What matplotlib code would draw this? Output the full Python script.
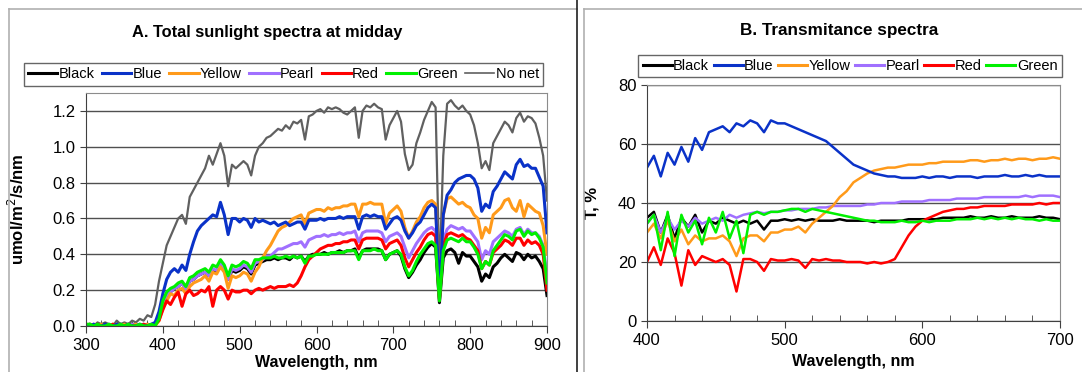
import matplotlib
matplotlib.use("Agg")
import matplotlib.pyplot as plt
import numpy as np
from matplotlib.lines import Line2D
from matplotlib.ticker import MultipleLocator, FormatStrFormatter

plt.rcParams['font.family'] = ['Liberation Sans', 'DejaVu Sans']

# ---- panel A: sunlight spectra under nets, 300-900 nm every 5 nm ----
wl_a = np.arange(300, 901, 5)

nonet = [0.00,0.01,0.00,0.02,0.01,0.02,0.01,0.00,0.03,0.01,
         0.02,0.01,0.03,0.02,0.04,0.03,0.06,0.05,0.12,0.25,
         0.35,0.45,0.50,0.55,0.60,0.62,0.57,0.72,0.76,0.80,
         0.84,0.88,0.95,0.90,0.96,1.02,0.95,0.78,0.90,0.88,
         0.90,0.92,0.90,0.84,0.95,1.00,1.02,1.05,1.06,1.08,
         1.10,1.09,1.12,1.10,1.14,1.13,1.15,1.04,1.17,1.18,
         1.20,1.21,1.19,1.22,1.21,1.22,1.21,1.19,1.18,1.20,
         1.22,1.05,1.20,1.23,1.22,1.24,1.22,1.21,1.04,1.12,
         1.16,1.20,1.14,0.96,0.87,0.90,1.02,1.08,1.15,1.20,
         1.25,1.22,0.28,0.95,1.24,1.26,1.23,1.21,1.23,1.20,
         1.18,1.12,1.02,0.88,0.92,0.87,1.02,1.06,1.10,1.14,
         1.12,1.08,1.16,1.19,1.14,1.17,1.16,1.13,1.05,0.95,
         0.70]
blue_a = [0.00,0.00,0.01,0.00,0.00,0.01,0.00,0.00,0.01,0.00,
          0.00,0.01,0.00,0.00,0.01,0.00,0.00,0.01,0.02,0.08,
          0.18,0.26,0.30,0.32,0.30,0.34,0.31,0.40,0.47,0.53,
          0.56,0.58,0.60,0.62,0.61,0.69,0.62,0.51,0.60,0.60,
          0.58,0.60,0.59,0.55,0.60,0.58,0.59,0.58,0.57,0.58,
          0.56,0.57,0.58,0.56,0.57,0.58,0.58,0.54,0.59,0.59,
          0.59,0.60,0.59,0.60,0.60,0.60,0.61,0.60,0.61,0.61,
          0.61,0.54,0.61,0.62,0.61,0.62,0.61,0.61,0.54,0.57,
          0.60,0.61,0.59,0.53,0.49,0.52,0.56,0.58,0.62,0.66,
          0.68,0.66,0.18,0.62,0.73,0.76,0.80,0.82,0.83,0.84,
          0.84,0.82,0.77,0.64,0.68,0.66,0.75,0.78,0.82,0.86,
          0.84,0.82,0.90,0.93,0.89,0.90,0.88,0.88,0.83,0.78,
          0.52]
yellow_a = [0.00,0.01,0.00,0.00,0.01,0.00,0.00,0.01,0.00,0.00,
            0.01,0.00,0.00,0.01,0.00,0.00,0.01,0.00,0.00,0.03,
            0.10,0.14,0.18,0.17,0.20,0.21,0.18,0.22,0.24,0.25,
            0.26,0.28,0.25,0.30,0.29,0.33,0.30,0.21,0.28,0.27,
            0.28,0.30,0.29,0.25,0.30,0.33,0.38,0.42,0.45,0.49,
            0.53,0.55,0.56,0.58,0.60,0.61,0.62,0.57,0.63,0.64,
            0.65,0.65,0.64,0.66,0.65,0.66,0.66,0.67,0.67,0.68,
            0.68,0.61,0.68,0.68,0.69,0.68,0.68,0.68,0.57,0.63,
            0.65,0.67,0.64,0.55,0.49,0.53,0.58,0.61,0.66,0.69,
            0.70,0.68,0.18,0.62,0.71,0.72,0.70,0.68,0.69,0.67,
            0.66,0.62,0.60,0.49,0.55,0.52,0.62,0.64,0.66,0.70,
            0.71,0.66,0.64,0.70,0.61,0.68,0.66,0.64,0.63,0.56,
            0.40]
pearl_a = [0.00,0.00,0.01,0.00,0.00,0.00,0.01,0.00,0.00,0.01,
           0.00,0.00,0.01,0.00,0.00,0.01,0.00,0.00,0.01,0.05,
           0.13,0.17,0.19,0.21,0.22,0.24,0.20,0.25,0.26,0.28,
           0.29,0.30,0.28,0.32,0.31,0.35,0.32,0.26,0.32,0.31,
           0.32,0.34,0.33,0.30,0.35,0.36,0.37,0.39,0.39,0.41,
           0.43,0.43,0.44,0.45,0.46,0.46,0.47,0.44,0.48,0.49,
           0.50,0.50,0.51,0.50,0.51,0.51,0.52,0.51,0.52,0.52,
           0.53,0.47,0.52,0.53,0.53,0.53,0.53,0.52,0.47,0.50,
           0.51,0.52,0.50,0.44,0.38,0.42,0.46,0.49,0.52,0.54,
           0.55,0.53,0.17,0.48,0.54,0.56,0.55,0.54,0.55,0.53,
           0.53,0.50,0.47,0.37,0.42,0.40,0.47,0.49,0.51,0.53,
           0.52,0.50,0.54,0.55,0.51,0.54,0.52,0.52,0.50,0.45,
           0.28]
red_a = [0.00,0.00,0.00,0.01,0.00,0.00,0.00,0.01,0.00,0.00,
         0.00,0.01,0.00,0.00,0.00,0.01,0.00,0.00,0.01,0.03,
         0.09,0.14,0.12,0.16,0.19,0.11,0.18,0.20,0.17,0.18,
         0.20,0.19,0.22,0.11,0.20,0.22,0.20,0.15,0.20,0.19,
         0.19,0.20,0.20,0.18,0.20,0.21,0.20,0.21,0.22,0.21,
         0.22,0.22,0.22,0.23,0.22,0.24,0.28,0.33,0.37,0.39,
         0.41,0.43,0.44,0.45,0.45,0.46,0.46,0.47,0.47,0.48,
         0.48,0.43,0.48,0.49,0.49,0.49,0.49,0.48,0.43,0.46,
         0.47,0.48,0.45,0.38,0.33,0.37,0.41,0.44,0.48,0.51,
         0.52,0.50,0.15,0.45,0.51,0.52,0.51,0.50,0.51,0.49,
         0.48,0.45,0.42,0.32,0.36,0.34,0.41,0.43,0.45,0.48,
         0.47,0.45,0.49,0.49,0.45,0.48,0.46,0.47,0.45,0.40,
         0.20]
black_a = [0.00,0.01,0.00,0.00,0.00,0.01,0.00,0.00,0.00,0.01,
           0.00,0.00,0.01,0.00,0.00,0.00,0.01,0.00,0.01,0.05,
           0.12,0.17,0.19,0.21,0.22,0.24,0.21,0.25,0.26,0.28,
           0.29,0.30,0.28,0.31,0.30,0.34,0.31,0.26,0.31,0.30,
           0.31,0.33,0.32,0.29,0.34,0.35,0.36,0.37,0.37,0.38,
           0.37,0.38,0.38,0.37,0.39,0.38,0.39,0.36,0.39,0.40,
           0.40,0.40,0.41,0.40,0.41,0.41,0.42,0.41,0.42,0.42,
           0.43,0.38,0.42,0.43,0.43,0.43,0.43,0.42,0.37,0.40,
           0.41,0.42,0.39,0.32,0.27,0.30,0.34,0.37,0.41,0.44,
           0.46,0.44,0.13,0.38,0.42,0.43,0.41,0.35,0.41,0.39,
           0.39,0.36,0.33,0.25,0.29,0.27,0.33,0.35,0.38,0.40,
           0.38,0.36,0.41,0.40,0.37,0.40,0.38,0.39,0.36,0.32,
           0.17]
green_a = [0.01,0.01,0.00,0.01,0.00,0.00,0.01,0.00,0.00,0.01,
           0.00,0.01,0.00,0.00,0.01,0.00,0.00,0.01,0.00,0.04,
           0.14,0.19,0.21,0.22,0.24,0.25,0.22,0.27,0.28,0.30,
           0.31,0.32,0.30,0.34,0.33,0.37,0.34,0.28,0.34,0.33,
           0.34,0.36,0.35,0.32,0.37,0.37,0.38,0.38,0.38,0.39,
           0.38,0.38,0.39,0.38,0.39,0.38,0.39,0.35,0.39,0.39,
           0.40,0.40,0.40,0.40,0.41,0.41,0.41,0.41,0.42,0.42,
           0.42,0.37,0.42,0.42,0.42,0.43,0.42,0.42,0.37,0.40,
           0.41,0.42,0.40,0.33,0.28,0.31,0.36,0.40,0.43,0.46,
           0.47,0.45,0.14,0.42,0.48,0.49,0.48,0.47,0.49,0.47,
           0.47,0.44,0.40,0.32,0.36,0.34,0.42,0.45,0.48,0.51,
           0.50,0.48,0.53,0.54,0.50,0.53,0.51,0.52,0.49,0.44,
           0.24]

# ---- panel B: net transmittance, 400-700 nm every 5 nm ----
wl_b = np.arange(400, 701, 5)

black_b = [35,37,30,36,28,35,32,36,30,34,
           33,35,34,33,34,33,34,31,34,34,
           34.5,34,34.5,34,34.5,34,34,34,34.5,34,
           34,34,34,33.5,34,34,34,34,34.5,34.5,
           34.5,34.5,34.5,35,35,35,35,35.5,35,35,
           35.5,35,35,35.5,35,35,35,35.5,35,35,
           34.5]
blue_b = [52,56,49,57,53,59,54,62,58,64,
          65,66,64,67,66,68,67,64,68,67,
          67,66,65,64,63,62,61,59,57,55,
          53,52,51,50,49.5,49,49,48.5,48.5,48.5,
          49,48.5,49,49,48.5,49,49,49,48.5,49,
          49,49,49.5,49,49,49.5,49,49.5,49,49,
          49]
yellow_b = [30,33,28,34,27,31,26,29,27,28,
            28,29,27,22,28,29,29,27,30,30,
            31,31,32,30,33,35,37,39,42,44,
            47,48.5,50,51,51.5,52,52,52.5,53,53,
            53,53.5,53.5,54,54,54,54,54.5,54.5,54,
            54.5,54.5,55,54.5,55,55,54.5,55,55,55.5,
            55]
pearl_b = [33,36,30,35,31,34,32,35,33,34,
           35,34,36,35,36,36.5,37,36.5,37,37,
           37.5,37.5,38,38,38,38.5,38.5,39,39,39,
           39,39,39.5,39.5,40,40,40,40.5,40.5,40.5,
           40.5,41,41,41,41,41.5,41.5,41.5,41.5,42,
           42,42,42,42,42,42.5,42,42.5,42.5,42.5,
           42]
red_b = [20,25,19,28,23,12,24,19,22,21,
         20,21,19,10,21,21,20,17,21,20.5,
         20.5,21,20.5,18,21,20.5,21,20.5,20.5,20,
         20,20,19.5,20,19.5,20,21,25,29,32,
         34,35,36,37,37.5,38,38,38.5,38.5,39,
         39,39,39,39.5,39.5,39.5,39.5,40,39.5,40,
         40]
green_b = [33,36,24,37,22,36,30,34,26,35,
           30,37,28,34,23,36,37,36,37,37,
           37.5,38,38,37,38,37.5,37,36.5,36,35.5,
           35,34.5,34,34,33.5,33.5,33.5,34,33.5,33.5,
           34,33.5,34,34,34,34.5,34.5,34.5,35,34.5,
           35,34.5,35,34.5,35,34.5,34.5,34,34.5,34,
           34]

names = ['Black', 'Blue', 'Yellow', 'Pearl', 'Red', 'Green', 'No net']
colors = ['#000000', '#0a32c8', '#ff9a1a', '#a070ff', '#ff0000', '#00f000', '#606060']

fig = plt.figure(figsize=(10.82, 3.72), dpi=100)

# panel frames
def fline(x0, y0, x1, y1, **kw):
    W, H = 1082.0, 372.0
    fig.add_artist(Line2D([x0/W, x1/W], [1-y0/H, 1-y1/H], transform=fig.transFigure, **kw))

fline(9, 9, 577, 9, color='#b0b0b0', lw=1.2)
fline(9, 9, 9, 372, color='#b0b0b0', lw=1.2)
fline(577, 0, 577, 372, color='#202020', lw=1.2)
fline(584, 9, 1082, 9, color='#b0b0b0', lw=1.2)
fline(584, 9, 584, 372, color='#b0b0b0', lw=1.2)


def style_axes(ax):
    for s in ['left', 'bottom']:
        ax.spines[s].set_color('#404040')
    for s in ['top', 'right']:
        ax.spines[s].set_color('#8c8c8c')
    ax.grid(axis='y', color='#505050', lw=1.0)
    ax.set_axisbelow(True)
    ax.xaxis.set_minor_locator(MultipleLocator(20))
    ax.tick_params(which='major', direction='out', length=5, labelsize=12, color='#404040')
    ax.tick_params(which='minor', direction='in', length=4, color='#404040')
    ax.tick_params(axis='y', length=4)


# ---- A ----
axA = fig.add_axes([86/1082, 1-326/372, 461/1082, 233/372])
seriesA = [black_a, blue_a, yellow_a, pearl_a, red_a, green_a, nonet]
for i in [6, 0, 3, 2, 4, 1, 5]:
    lw = 1.6 if i == 6 else 2.2
    axA.plot(wl_a, seriesA[i], color=colors[i], lw=lw, label=names[i])
axA.set_xlim(300, 900)
axA.set_ylim(0, 1.3)
axA.set_yticks(np.arange(0, 1.21, 0.2))
axA.yaxis.set_major_formatter(FormatStrFormatter('%.1f'))
axA.set_xticks([300, 400, 500, 600, 700, 800, 900])
style_axes(axA)
axA.set_ylabel('umol/m$^2$/s/nm', fontsize=12, fontweight='bold')
axA.yaxis.set_label_coords(-0.128, 0.5)
axA.set_xlabel('Wavelength, nm', fontsize=11.5, fontweight='bold', va='center')
axA.xaxis.set_label_coords(0.5, -0.158)

legA_handles = [Line2D([], [], color=colors[i], lw=2.2 if i < 6 else 1.2) for i in range(7)]
legA = fig.legend(legA_handles, names, loc='center', bbox_to_anchor=(283.5/1082, 1-74.5/372),
                  ncol=7, fontsize=10.5, frameon=True, fancybox=False, handlelength=2.0,
                  handletextpad=0.1, columnspacing=0.5, borderpad=0.3, borderaxespad=0)
legA.get_frame().set_edgecolor('#404040')
legA.get_frame().set_linewidth(1.0)

fig.text(267/1082, 1-32/372, 'A. Total sunlight spectra at midday', ha='center', va='center',
         fontsize=11.8, fontweight='bold')

# ---- B ----
axB = fig.add_axes([647/1082, 1-321/372, 413/1082, 236/372])
seriesB = [black_b, blue_b, yellow_b, pearl_b, red_b, green_b]
for i in [0, 3, 2, 4, 1, 5]:
    axB.plot(wl_b, seriesB[i], color=colors[i], lw=1.8)
axB.set_xlim(400, 700)
axB.set_ylim(0, 80)
axB.set_yticks([0, 20, 40, 60, 80])
axB.set_xticks([400, 500, 600, 700])
style_axes(axB)
axB.set_ylabel('T, %', fontsize=12, fontweight='bold')
axB.yaxis.set_label_coords(-0.115, 0.5)
axB.set_xlabel('Wavelength, nm', fontsize=11.5, fontweight='bold', va='center')
axB.xaxis.set_label_coords(0.5, -0.17)

legB_handles = [Line2D([], [], color=colors[i], lw=2.2) for i in range(6)]
legB = fig.legend(legB_handles, names[:6], loc='center', bbox_to_anchor=(850/1082, 1-66/372),
                  ncol=6, fontsize=10.5, frameon=True, fancybox=False, handlelength=2.0,
                  handletextpad=0.1, columnspacing=0.3, borderpad=0.3, borderaxespad=0)
legB.get_frame().set_edgecolor('#404040')
legB.get_frame().set_linewidth(1.0)

fig.text(839/1082, 1-30/372, 'B. Transmitance spectra', ha='center', va='center',
         fontsize=12.3, fontweight='bold')

fig.savefig('out.png', dpi=100)
